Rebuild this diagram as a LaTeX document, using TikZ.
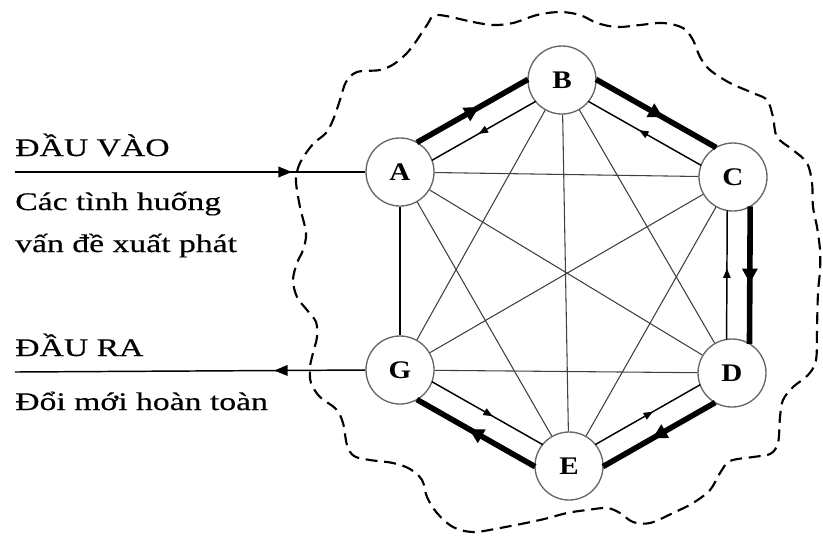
\documentclass[tikz,border=0pt]{standalone}
\usepackage{fontspec}
\setmainfont{Liberation Serif}
\newfontfamily\lblfont[FakeStretch=1.33,FakeBold=0.4]{Liberation Serif}
\newfontfamily\ltrfont[FakeStretch=1.15]{Liberation Serif}
\usetikzlibrary{calc,arrows.meta,decorations.markings}
\tikzset{
  vnode/.style={circle,draw=black!60,line width=1pt,fill=white,minimum size=51pt,inner sep=0pt,
    font=\ltrfont\bfseries\fontsize{19}{19}\selectfont},
  lbl/.style={anchor=base west,inner sep=0pt,font=\lblfont\fontsize{19}{22}\selectfont},
  diag/.style={draw=black!75,line width=0.8pt},
  boldlink/.style={line width=4.2pt,postaction={decorate},
    decoration={markings,mark=at position 0.56 with {\arrow{Triangle[length=11pt,width=11pt]}}}},
  thinlink/.style={line width=1.1pt,postaction={decorate},
    decoration={markings,mark=at position 0.55 with {\arrow{Triangle[length=7pt,width=5.5pt]}}}},
  iolink/.style={line width=1.1pt,postaction={decorate},
    decoration={markings,mark=at position #1 with {\arrow{Triangle[length=10pt,width=8pt]}}}},
  cloud/.style={line width=1.6pt,dash pattern=on 9pt off 5pt,line join=round}
}
\newcommand\pairlink[2]{%
  \draw[boldlink] ($(#1)!21.9pt!(#2)!13pt!90:(#2)$) -- ($(#2)!21.9pt!(#1)!13pt!270:(#1)$);
  \draw[thinlink] ($(#2)!25.1pt!(#1)!4.2pt!90:(#1)$) -- ($(#1)!25.1pt!(#2)!4.2pt!270:(#2)$);
}
\begin{document}
\begin{tikzpicture}[x=0.75pt,y=-0.75pt]
\useasboundingbox (0,0) rectangle (823,537);
% dashed boundary
\draw[cloud] plot[smooth cycle,tension=0.55] coordinates {
 (437,15) (473,22) (493,25) (513,23) (537,15) (560,12) (580,15) (597,23) (617,27) (640,25)
 (663,23) (683,28) (693,40) (700,57) (710,70) (730,83) (753,93) (767,100) (773,117) (777,137)
 (793,150) (807,163) (812,183) (813,207) (817,227) (820,250) (820,270) (818,293) (817,327)
 (816,360) (808,375) (793,387) (783,400) (780,417) (778,443) (770,454) (753,457) (730,461)
 (720,473) (710,490) (693,503) (673,513) (650,523) (633,522) (620,513) (607,508) (587,510)
 (567,513) (540,520) (500,528) (473,532) (453,527) (437,513) (427,497) (422,480) (410,469)
 (393,463) (370,460) (354,456) (347,445) (343,423) (336,409) (320,397) (311,383) (310,367)
 (313,353) (317,337) (316,322) (307,310) (297,297) (293,280) (297,263) (303,250) (306,233)
 (300,207) (296,182) (298,168) (304,156) (314,143) (326,133) (333,120) (340,100) (346,82)
 (357,72) (380,70) (394,64) (407,53) (417,40) (427,25)};
% nodes
\node[vnode] (A) at (400,172) {A};
\node[vnode] (B) at (562,80) {B};
\node[vnode] (C) at (733,177) {C};
\node[vnode] (D) at (732,373) {D};
\node[vnode] (E) at (569,466) {E};
\node[vnode] (G) at (400,370) {G};
% diagonals
\draw[diag] (A) -- (C);
\draw[diag] (A) -- (D);
\draw[diag] (A) -- (E);
\draw[diag] (B) -- (D);
\draw[diag] (B) -- (E);
\draw[diag] (B) -- (G);
\draw[diag] (C) -- (E);
\draw[diag] (C) -- (G);
\draw[diag] (D) -- (G);
\draw[line width=1pt] (A) -- (G);
% paired links
\pairlink{A}{B}
\pairlink{B}{C}
\pairlink{C}{D}
\pairlink{D}{E}
\pairlink{E}{G}
% input / output
\coordinate (inL) at (15,172);
\coordinate (outL) at (15,372);
\draw[iolink=0.79] (inL) -- (A.west);
\draw[iolink=0.26] (G.west) -- (outL);
% texts
\node[lbl] (t1) at (15,156) {ĐẦU VÀO};
\node[lbl] (t2) at (15,210) {Các tình huống};
\node[lbl] (t3) at (15,252) {vấn đề xuất phát};
\node[lbl] (t4) at (15,356) {ĐẦU RA};
\node[lbl] (t5) at (15,410) {Đổi mới hoàn toàn};
\end{tikzpicture}
\end{document}
